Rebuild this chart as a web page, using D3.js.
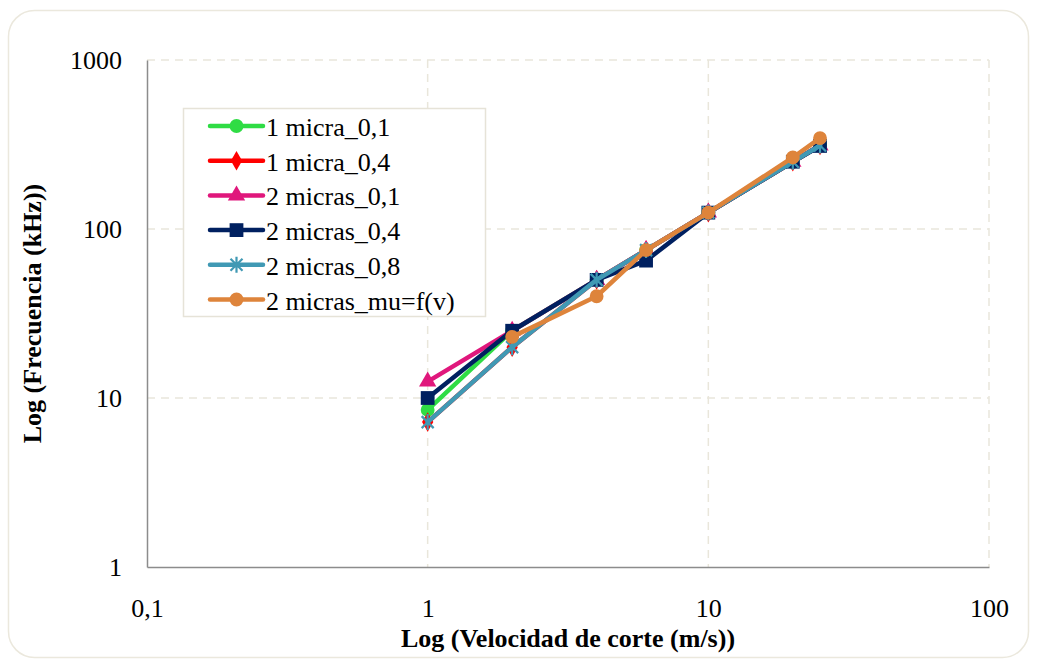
<!DOCTYPE html>
<html>
<head>
<meta charset="utf-8">
<script src="https://cdn.jsdelivr.net/npm/d3@7"></script>
</head>
<body style="margin:0">
<svg id="chart" width="1038" height="667" font-family="Liberation Serif"></svg>
<script>
// Cutting speed (m/s) and frequency (kHz) per configuration
const velocidad = [1, 2, 4, 6, 10, 20, 25];
const micra1_01 = [8.5, 25, 50, 75, 125, 250, 312];
const micra1_04 = [7.2, 20, 50, 75, 125, 250, 312];
const micras2_01 = [12.5, 25, 50, 75, 125, 250, 312];
const micras2_04 = [10, 25, 50, 65, 125, 250, 310];
const micras2_08 = [7.2, 20, 50, 75, 125, 250, 312];
const micras2_mu = [null, 23, 40, 75, 125, 265, 345];

const seriesNames = ["1 micra_0,1", "1 micra_0,4", "2 micras_0,1", "2 micras_0,4", "2 micras_0,8", "2 micras_mu=f(v)"];
const xTicks = [0.1, 1, 10, 100];
const xTickLabels = ["0,1", "1", "10", "100"];
const yTicks = [1, 10, 100, 1000];
const yTickLabels = ["1", "10", "100", "1000"];

const series = [
  { name: seriesNames[0], values: micra1_01, color: "#2fdc44", marker: "circle" },
  { name: seriesNames[1], values: micra1_04, color: "#ff0000", marker: "diamond" },
  { name: seriesNames[2], values: micras2_01, color: "#e0177c", marker: "triangle" },
  { name: seriesNames[3], values: micras2_04, color: "#002060", marker: "square" },
  { name: seriesNames[4], values: micras2_08, color: "#4099b4", marker: "star" },
  { name: seriesNames[5], values: micras2_mu, color: "#de843b", marker: "circle" }
];

const svg = d3.select("#chart");
const W = 1038, H = 667;
const plot = { left: 147, right: 989, top: 60, bottom: 567 };
const FONT = "Liberation Serif";
const FS = 26;

// Outer chart frame
svg.append("rect")
  .attr("x", 8.5).attr("y", 10.5)
  .attr("width", W - 18).attr("height", H - 20)
  .attr("rx", 26).attr("ry", 26)
  .attr("fill", "#fff").attr("stroke", "#ebe8dd").attr("stroke-width", 1.5);

const x = d3.scaleLog().domain([0.1, 100]).range([plot.left, plot.right]);
const y = d3.scaleLog().domain([1, 1000]).range([plot.bottom, plot.top]);

// Gridlines
const grid = svg.append("g").attr("stroke", "#e9e6db").attr("stroke-width", 1.5).attr("stroke-dasharray", "8,6");
grid.selectAll("line.h").data(yTicks.slice(1)).join("line")
  .attr("x1", plot.left).attr("x2", plot.right)
  .attr("y1", d => y(d)).attr("y2", d => y(d));
grid.selectAll("line.v").data(xTicks.slice(1)).join("line")
  .attr("y1", plot.top).attr("y2", plot.bottom)
  .attr("x1", d => x(d)).attr("x2", d => x(d));

// Axes
const xAxis = d3.axisBottom(x).tickValues(xTicks).tickFormat((d, i) => xTickLabels[i]).tickSize(0).tickPadding(41);
const yAxis = d3.axisLeft(y).tickValues(yTicks).tickFormat((d, i) => yTickLabels[i]).tickSize(0).tickPadding(25);

const gx = svg.append("g").attr("transform", `translate(0,${plot.bottom})`).call(xAxis);
const gy = svg.append("g").attr("transform", `translate(${plot.left},0)`).call(yAxis);
[gx, gy].forEach(g => {
  g.attr("font-family", FONT).attr("font-size", FS);
  g.select(".domain").attr("stroke", "#8c8c8c").attr("stroke-width", 1.5);
  g.selectAll("text").attr("fill", "#000");
});
gx.selectAll("text").attr("dy", "0.35em");

// Axis titles
svg.append("text")
  .attr("x", (plot.left + plot.right) / 2).attr("y", 647)
  .attr("text-anchor", "middle")
  .attr("font-size", FS).attr("font-weight", "bold")
  .text("Log (Velocidad de corte (m/s))");
svg.append("text")
  .attr("transform", `translate(41,${(plot.top + plot.bottom) / 2}) rotate(-90)`)
  .attr("text-anchor", "middle")
  .attr("font-size", FS).attr("font-weight", "bold")
  .text("Log (Frecuencia (kHz))");

// Marker shapes
function markerPath(type) {
  switch (type) {
    case "circle": return d3.symbol(d3.symbolCircle, 150)();
    case "square": return d3.symbol(d3.symbolSquare, 190)();
    case "triangle": return d3.symbol(d3.symbolTriangle, 130)();
    case "diamond": return d3.symbol(d3.symbolDiamond, 110)();
    case "star": return "M-6,-6L6,6M-6,6L6,-6M0,-8L0,8";
  }
}
function drawMarker(g, s, cx, cy) {
  const p = g.append("path").attr("d", markerPath(s.marker))
    .attr("transform", `translate(${cx},${cy})`);
  if (s.marker === "star") {
    p.attr("fill", "none").attr("stroke", s.color).attr("stroke-width", 2.2);
  } else {
    p.attr("fill", s.color);
  }
}

// Series lines and markers
const line = d3.line()
  .defined(d => d[1] != null)
  .x(d => x(d[0])).y(d => y(d[1]));

series.forEach(s => {
  const pts = velocidad.map((v, i) => [v, s.values[i]]);
  const g = svg.append("g");
  g.append("path").datum(pts)
    .attr("d", line)
    .attr("fill", "none").attr("stroke", s.color)
    .attr("stroke-width", 4.5).attr("stroke-linejoin", "round").attr("stroke-linecap", "round");
  pts.filter(d => d[1] != null).forEach(d => drawMarker(g, s, x(d[0]), y(d[1])));
});

// Legend
const legend = svg.append("g");
legend.append("rect")
  .attr("x", 183.5).attr("y", 108.5).attr("width", 302).attr("height", 208)
  .attr("fill", "#fff").attr("stroke", "#e6e3d8").attr("stroke-width", 1.5);
series.forEach((s, i) => {
  const ly = 126 + i * 34.7;
  const g = legend.append("g");
  g.append("line").attr("x1", 210).attr("x2", 263).attr("y1", ly).attr("y2", ly)
    .attr("stroke", s.color).attr("stroke-width", 4.5).attr("stroke-linecap", "round");
  drawMarker(g, s, 236.5, ly);
  g.append("text").attr("x", 266).attr("y", ly + 10)
    .attr("font-size", FS).attr("fill", "#000")
    .text(s.name);
});
</script>
</body>
</html>
